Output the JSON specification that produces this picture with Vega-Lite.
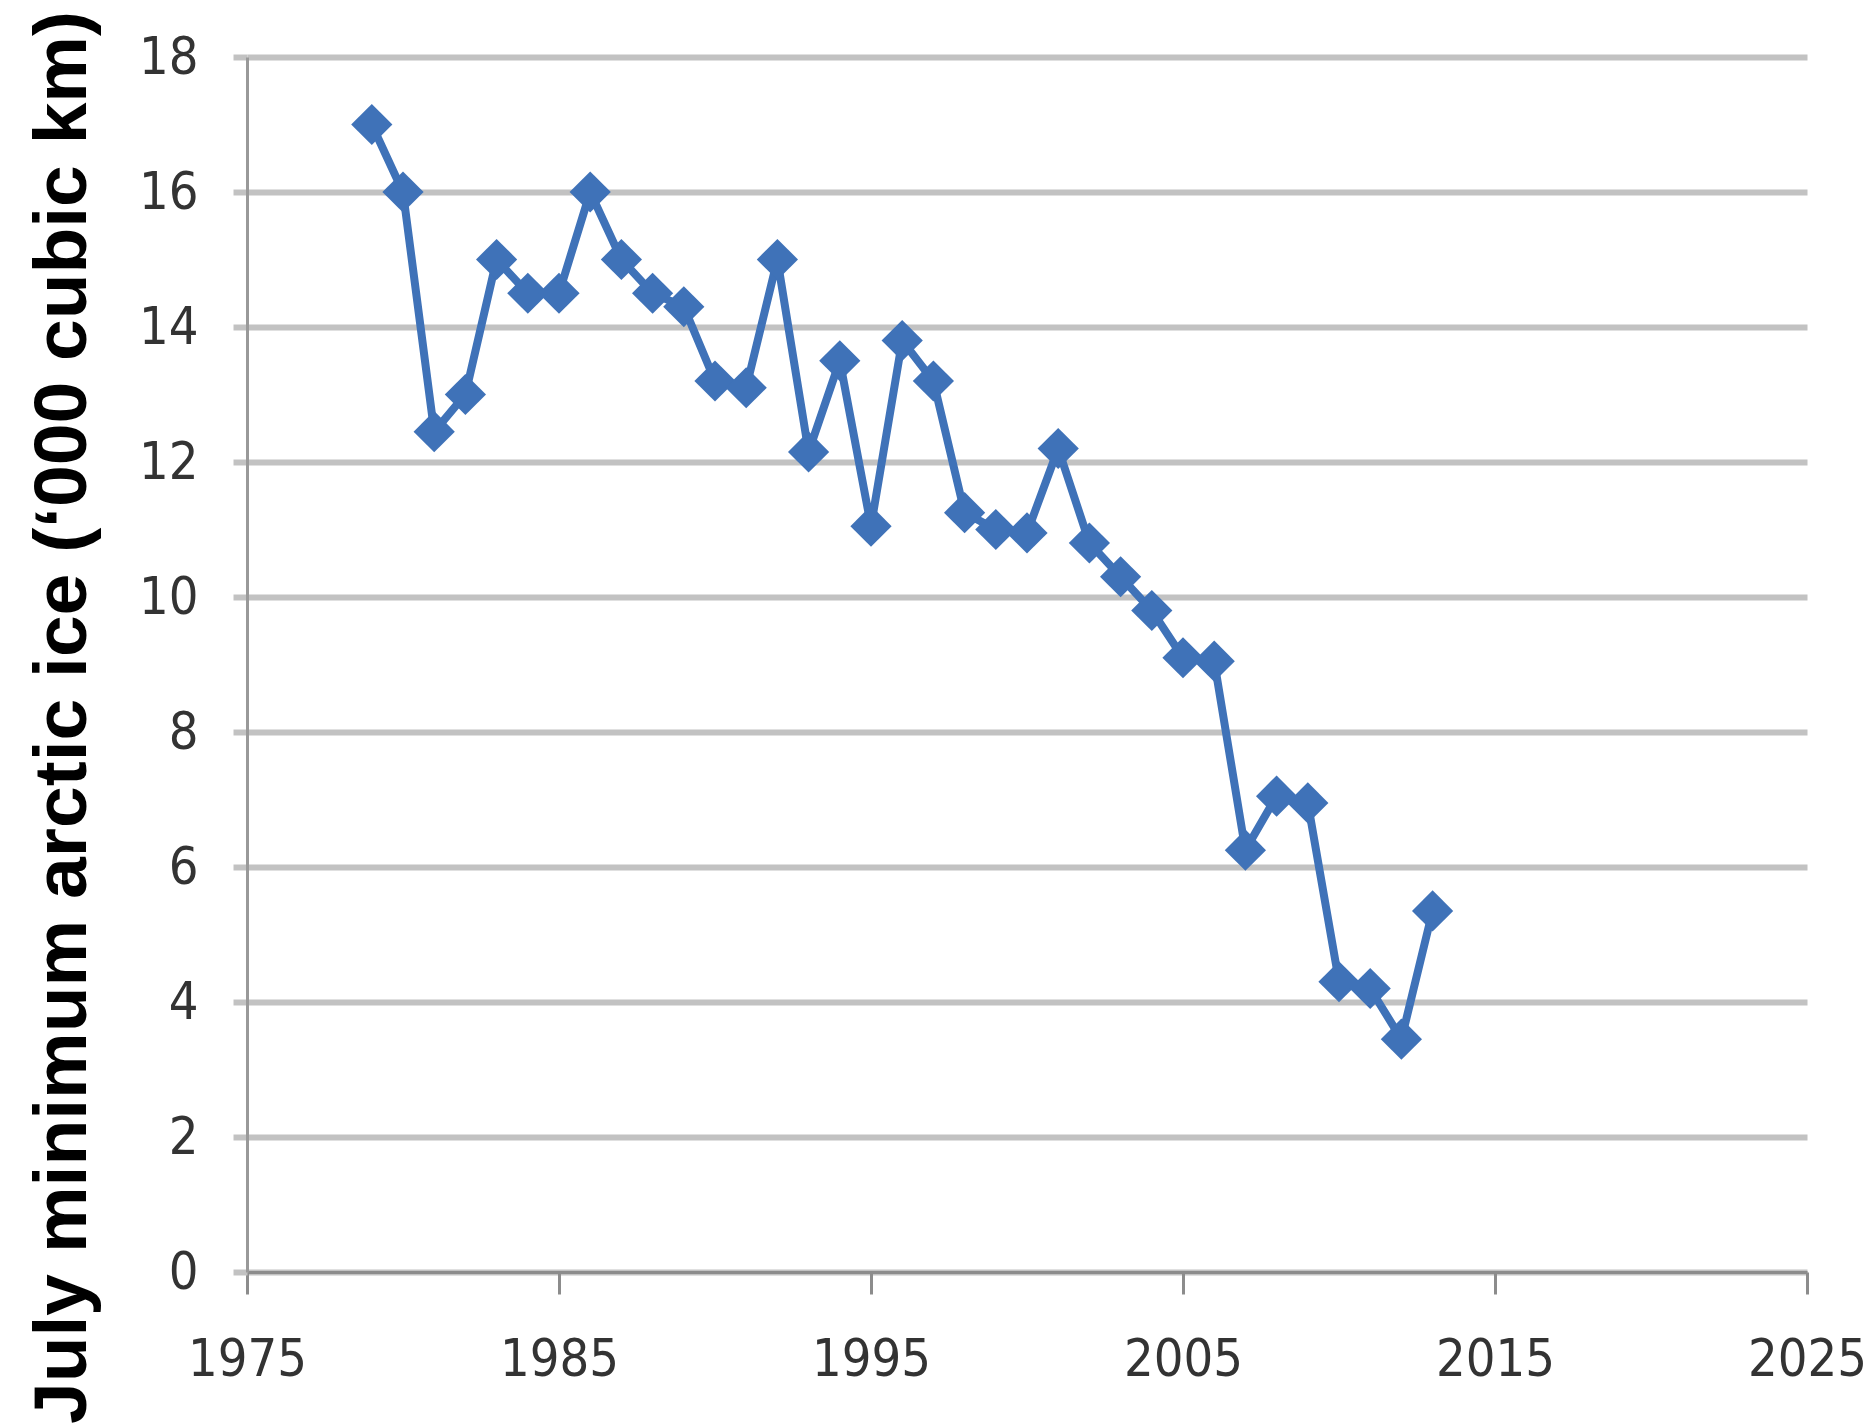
{
  "$schema": "https://vega.github.io/schema/vega-lite/v6.json",
  "width": 1560,
  "height": 1215,
  "autosize": {"type": "none"},
  "padding": {"left": 247, "top": 57, "right": 65, "bottom": 156},
  "background": "white",
  "config": {"view": {"stroke": null}},
  "data": {
    "values": [
      {"year": 1979, "ice": 17.0},
      {"year": 1980, "ice": 16.0},
      {"year": 1981, "ice": 12.45},
      {"year": 1982, "ice": 13.0},
      {"year": 1983, "ice": 15.0},
      {"year": 1984, "ice": 14.5},
      {"year": 1985, "ice": 14.5},
      {"year": 1986, "ice": 16.0},
      {"year": 1987, "ice": 15.0},
      {"year": 1988, "ice": 14.5},
      {"year": 1989, "ice": 14.3},
      {"year": 1990, "ice": 13.2},
      {"year": 1991, "ice": 13.1},
      {"year": 1992, "ice": 15.0},
      {"year": 1993, "ice": 12.15},
      {"year": 1994, "ice": 13.5},
      {"year": 1995, "ice": 11.05},
      {"year": 1996, "ice": 13.8},
      {"year": 1997, "ice": 13.2},
      {"year": 1998, "ice": 11.25},
      {"year": 1999, "ice": 11.0},
      {"year": 2000, "ice": 10.95},
      {"year": 2001, "ice": 12.2},
      {"year": 2002, "ice": 10.8},
      {"year": 2003, "ice": 10.3},
      {"year": 2004, "ice": 9.8},
      {"year": 2005, "ice": 9.1},
      {"year": 2006, "ice": 9.05},
      {"year": 2007, "ice": 6.25},
      {"year": 2008, "ice": 7.05},
      {"year": 2009, "ice": 6.95},
      {"year": 2010, "ice": 4.3},
      {"year": 2011, "ice": 4.2},
      {"year": 2012, "ice": 3.45},
      {"year": 2013, "ice": 5.35}
    ]
  },
  "encoding": {
    "x": {
      "field": "year",
      "type": "quantitative",
      "scale": {"domain": [1975, 2025], "nice": false, "zero": false},
      "axis": {
        "values": [1975, 1985, 1995, 2005, 2015, 2025],
        "format": "d",
        "grid": false,
        "title": null,
        "tickSize": 22,
        "tickColor": "#8c8c8c",
        "tickWidth": 3,
        "domainColor": "#8c8c8c",
        "domainWidth": 3,
        "labelFont": "DejaVu Sans Condensed, sans-serif",
        "labelFontSize": 52,
        "labelColor": "#333333",
        "labelPadding": 40,
        "labelFlush": false
      }
    },
    "y": {
      "field": "ice",
      "type": "quantitative",
      "scale": {"domain": [0, 18], "nice": false},
      "axis": {
        "values": [0, 2, 4, 6, 8, 10, 12, 14, 16, 18],
        "grid": true,
        "gridColor": "#c2c2c2",
        "gridWidth": 6,
        "tickSize": 14,
        "tickColor": "#c2c2c2",
        "tickWidth": 6,
        "domainColor": "#999999",
        "domainWidth": 3,
        "labelFont": "DejaVu Sans Condensed, sans-serif",
        "labelFontSize": 52,
        "labelColor": "#333333",
        "labelPadding": 35,
        "title": "July minimum arctic ice (‘000 cubic km)",
        "titleFont": "Liberation Sans",
        "titleFontWeight": "bold",
        "titleFontSize": 75,
        "titleColor": "#000000",
        "titleAngle": 270,
        "titleAlign": "center",
        "titleBaseline": "alphabetic",
        "titleX": -162,
        "titleY": 660
      }
    }
  },
  "layer": [
    {"mark": {"type": "line", "color": "#3f72b8", "strokeWidth": 8}},
    {"mark": {"type": "point", "shape": "diamond", "filled": true, "size": 1700, "color": "#3f72b8", "opacity": 1}}
  ]
}
